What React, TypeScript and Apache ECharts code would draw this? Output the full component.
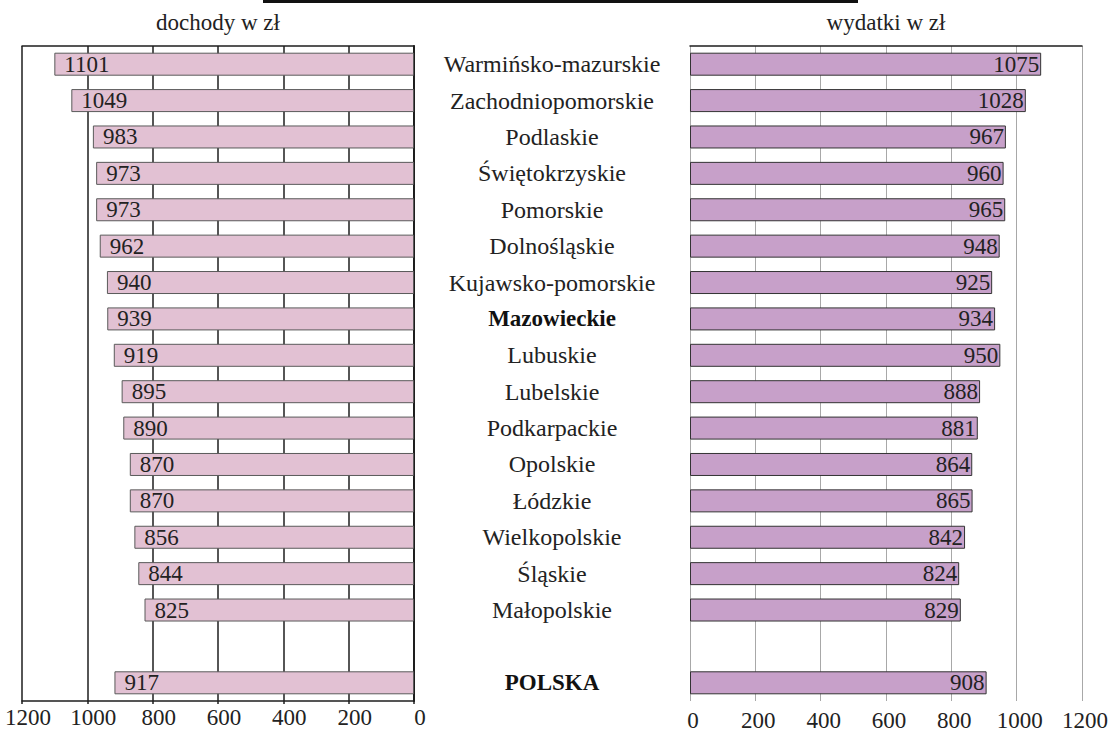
import React, { useEffect, useRef } from "react";
import * as echarts from "echarts";

const categories = [
  "Warmińsko-mazurskie",
  "Zachodniopomorskie",
  "Podlaskie",
  "Świętokrzyskie",
  "Pomorskie",
  "Dolnośląskie",
  "Kujawsko-pomorskie",
  "Mazowieckie",
  "Lubuskie",
  "Lubelskie",
  "Podkarpackie",
  "Opolskie",
  "Łódzkie",
  "Wielkopolskie",
  "Śląskie",
  "Małopolskie",
  "",
  "POLSKA",
];

const boldCategories = ["Mazowieckie", "POLSKA"];

const dochody: (number | string)[] = [
  1101, 1049, 983, 973, 973, 962, 940, 939, 919, 895, 890, 870, 870, 856, 844, 825, "-", 917,
];

const wydatki: (number | string)[] = [
  1075, 1028, 967, 960, 965, 948, 925, 934, 950, 888, 881, 864, 865, 842, 824, 829, "-", 908,
];

const axisTitles = ["dochody w zł", "wydatki w zł"];
const axisMin = 0;
const axisMax = 1200;
const axisInterval = 200;

const FONT = "Times New Roman, Liberation Serif, serif";

export default function App() {
  const ref = useRef<HTMLDivElement>(null);

  useEffect(() => {
    document.body.style.margin = "0";
    if (!ref.current) return;
    const chart = echarts.init(ref.current, null, { renderer: "svg" });

    const dark = "#1e1e1e";
    const plain = (v: number) => String(v);
    const option: any = {
      animation: false,
      backgroundColor: "#ffffff",
      textStyle: { fontFamily: FONT },
      grid: [
        { left: 22, right: 698, top: 46, bottom: 32, containLabel: false, outerBoundsMode: "none" },
        { left: 690, right: 30, top: 46, bottom: 32, containLabel: false, outerBoundsMode: "none" },
      ],
      xAxis: [
        {
          gridIndex: 0,
          type: "value",
          min: axisMin,
          max: axisMax,
          interval: axisInterval,
          inverse: true,
          position: "bottom",
          axisLine: { show: true, lineStyle: { color: dark, width: 1.5 } },
          axisTick: { show: true, length: 3, lineStyle: { color: dark, width: 1.5 } },
          axisLabel: {
            fontSize: 23,
            color: "#222",
            fontFamily: FONT,
            margin: 5,
            padding: [0, 0, 0, 12],
            formatter: plain,
          },
          splitLine: { show: true, lineStyle: { color: dark, width: 1.5 } },
        },
        {
          gridIndex: 0,
          type: "value",
          min: axisMin,
          max: axisMax,
          interval: axisInterval,
          inverse: true,
          position: "top",
          name: axisTitles[0],
          nameLocation: "middle",
          nameGap: 12,
          nameTextStyle: { fontSize: 23, color: "#222", fontFamily: FONT },
          axisLine: { show: true, lineStyle: { color: dark, width: 1.5 } },
          axisTick: { show: false },
          axisLabel: { show: false },
          splitLine: { show: false },
        },
        {
          gridIndex: 1,
          type: "value",
          min: axisMin,
          max: axisMax,
          interval: axisInterval,
          position: "bottom",
          axisLine: { show: false },
          axisTick: { show: false },
          axisLabel: {
            fontSize: 23,
            color: "#222",
            fontFamily: FONT,
            margin: 8,
            padding: [0, 0, 0, 6],
            formatter: plain,
          },
          splitLine: { show: true, lineStyle: { color: "#a8a8a8", width: 1 } },
        },
        {
          gridIndex: 1,
          type: "value",
          min: axisMin,
          max: axisMax,
          interval: axisInterval,
          position: "top",
          name: axisTitles[1],
          nameLocation: "middle",
          nameGap: 12,
          nameTextStyle: { fontSize: 23, color: "#222", fontFamily: FONT },
          axisLine: { show: true, lineStyle: { color: dark, width: 1.5 } },
          axisTick: { show: false },
          axisLabel: { show: false },
          splitLine: { show: false },
        },
      ],
      yAxis: [
        {
          gridIndex: 0,
          type: "category",
          data: categories,
          inverse: true,
          position: "right",
          axisLine: { show: true, lineStyle: { color: dark, width: 2 } },
          axisTick: { show: false },
          axisLabel: {
            show: true,
            interval: 0,
            align: "center",
            margin: 138,
            fontSize: 24,
            color: "#222",
            fontFamily: FONT,
            formatter: (v: string) => (boldCategories.includes(v) ? `{b|${v}}` : `{n|${v}}`),
            rich: {
              b: { fontWeight: "bold", fontSize: 23, color: "#111", fontFamily: FONT },
              n: { fontSize: 24, color: "#222", fontFamily: FONT },
            },
          },
          splitLine: { show: false },
        },
        {
          gridIndex: 1,
          type: "category",
          data: categories,
          inverse: true,
          axisLine: { show: false },
          axisTick: { show: false },
          axisLabel: { show: false },
          splitLine: { show: false },
        },
      ],
      series: [
        {
          type: "bar",
          name: axisTitles[0],
          xAxisIndex: 0,
          yAxisIndex: 0,
          data: dochody,
          barWidth: 23,
          itemStyle: { color: "#e2c1d3", borderColor: "#5a5a5a", borderWidth: 1 },
          label: {
            show: true,
            position: "insideLeft",
            distance: 10,
            fontSize: 23,
            color: "#222",
            fontFamily: FONT,
          },
        },
        {
          type: "bar",
          name: axisTitles[1],
          xAxisIndex: 2,
          yAxisIndex: 1,
          data: wydatki,
          barWidth: 23,
          itemStyle: { color: "#c7a0c9", borderColor: "#333", borderWidth: 1 },
          label: {
            show: true,
            position: "insideRight",
            distance: 2,
            fontSize: 23,
            color: "#222",
            fontFamily: FONT,
          },
        },
      ],
      graphic: [
        {
          type: "rect",
          shape: { x: 263, y: 0, width: 595, height: 3 },
          style: { fill: "#111" },
        },
      ],
    };

    chart.setOption(option);
    return () => chart.dispose();
  }, []);

  return <div ref={ref} style={{ width: 1112, height: 733 }} />;
}
